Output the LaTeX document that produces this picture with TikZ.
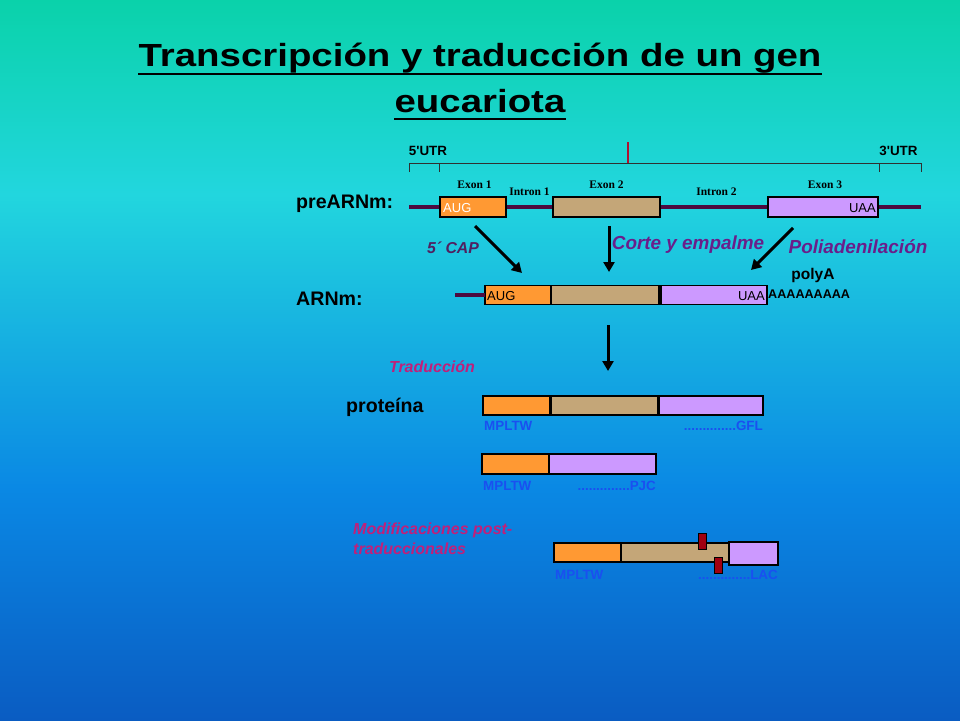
\documentclass[tikz,border=0pt]{standalone}
\usepackage{fontspec}
\setmainfont{Liberation Sans}
\newfontfamily\serifb{Liberation Serif}
\newfontfamily\titlefont[FakeStretch=1.2]{Liberation Sans}
\usetikzlibrary{arrows.meta,calc}
\definecolor{bgtop}{HTML}{0AD2AA}
\definecolor{bgcyan}{HTML}{22D6DE}
\definecolor{bgmid}{HTML}{0A88E4}
\definecolor{bgbot}{HTML}{0A5CC2}
\definecolor{rnaline}{HTML}{4C0A40}
\definecolor{exorange}{HTML}{FF9933}
\definecolor{extan}{HTML}{C4A678}
\definecolor{exlilac}{HTML}{CC99FF}
\definecolor{capcol}{HTML}{502060}
\definecolor{purp}{HTML}{6A1E8A}
\definecolor{magen}{HTML}{C0207A}
\definecolor{aablue}{HTML}{1A50F0}
\definecolor{marker}{HTML}{A00010}
\definecolor{redtick}{HTML}{B01030}
\definecolor{rulercol}{HTML}{303030}
\pgfdeclareverticalshading{bgshade}{100bp}{color(0bp)=(bgbot); color(25bp)=(bgbot); color(41bp)=(bgmid); color(61.5bp)=(bgcyan); color(75bp)=(bgtop); color(100bp)=(bgtop)}
\tikzset{
  exbox/.style={draw=black, line width=1.1pt, inner sep=0pt, outer sep=0pt, minimum height=#1},
  exbox/.default=20pt,
  rna/.style={draw=rnaline, line width=4pt},
  bigarrow/.style={draw=black, line width=3pt, -{Triangle[length=10pt,width=11pt]}},
  lbl/.style={font=\bfseries\fontsize{19.6}{19.6}\selectfont, inner sep=0pt, anchor=west},
  utr/.style={font=\bfseries\fontsize{13.4}{13.4}\selectfont, inner sep=0pt},
  exlbl/.style={font=\serifb\bfseries\fontsize{11.5}{11.5}\selectfont, inner sep=0pt},
  codon/.style={font=\fontsize{13}{13}\selectfont, inner sep=0pt},
  aa/.style={font=\bfseries\fontsize{13.4}{13.4}\selectfont, text=aablue, inner sep=0pt},
  ital/.style={font=\bfseries\itshape\fontsize{#1}{#1}\selectfont, inner sep=0pt},
  ttl/.style={font=\titlefont\bfseries\fontsize{32}{32}\selectfont, inner sep=0pt, anchor=base},
  mk/.style={fill=marker, draw=black, line width=0.4pt, inner sep=0pt, minimum width=8pt, minimum height=16pt}
}
\begin{document}
\begin{tikzpicture}[x=1pt,y=-1pt]
\useasboundingbox (0,0) rectangle (960,720);
\shade[shading=bgshade] (0,0) rectangle (960,720);

% title
\node[ttl] (t1) at (480,66.7) {Transcripción y traducción de un gen};
\node[ttl] (t2) at (480,112.7) {eucariota};
\draw[line width=2.2pt] ($(t1.base west)+(0,7)$) -- ($(t1.base east)+(0,7)$);
\draw[line width=2.2pt] ($(t2.base west)+(0,6)$) -- ($(t2.base east)+(0,6)$);

% ruler
\coordinate (r0) at (409,163);
\coordinate (r1) at (439,163);
\coordinate (r2) at (879,163);
\coordinate (r3) at (921,163);
\draw[rulercol, line width=0.9pt] ($(r0)+(0,9)$) -- (r0) -- (r3) -- ($(r3)+(0,9)$);
\draw[rulercol, line width=0.9pt] (r1) -- ($(r1)+(0,9)$);
\draw[rulercol, line width=0.9pt] (r2) -- ($(r2)+(0,9)$);
\coordinate (rt) at (628,142);
\draw[redtick, line width=1.6pt] (rt) -- (628,163);
\node[utr] (u5) at (428,151) {5\textquotesingle UTR};
\node[utr] (u3) at (898.5,151) {3\textquotesingle UTR};

% preARNm
\node[lbl] (pre) at (296,204) {preARNm:};
\coordinate (p0) at (409,207);
\coordinate (p1) at (921,207);
\draw[rna] (p0) -- (p1);
\node[exbox, fill=exorange, minimum width=66pt, anchor=west] (e1) at (440,207) {};
\node[exbox, fill=extan, minimum width=107pt, anchor=west] (e2) at (553,207) {};
\node[exbox, fill=exlilac, minimum width=110pt, anchor=west] (e3) at (768,207) {};
\draw[line width=2.6pt] (e3.north east) -- (e3.south east);
\node[codon, text=white, anchor=west] (aug1) at (443,208) {AUG};
\node[codon, anchor=east] (uaa1) at (876,208) {UAA};
\node[exlbl] (x1) at (474.5,185) {Exon 1};
\node[exlbl] (i1) at (529.5,192) {Intron 1};
\node[exlbl] (x2) at (606.5,185) {Exon 2};
\node[exlbl] (i2) at (716.5,192) {Intron 2};
\node[exlbl] (x3) at (825,185) {Exon 3};

% processing arrows
\coordinate (a1s) at (475,226); \coordinate (a1e) at (522,273);
\coordinate (a2s) at (609,226); \coordinate (a2e) at (609,272);
\coordinate (a3s) at (793,228); \coordinate (a3e) at (751,270);
\draw[bigarrow] (a1s) -- (a1e);
\draw[bigarrow] (a2s) -- (a2e);
\draw[bigarrow] (a3s) -- (a3e);
\node[ital=15.8, text=capcol] (cap) at (453,248) {5´ CAP};
\node[ital=18.9, text=purp] (corte) at (688,245) {Corte y empalme};
\node[ital=18.9, text=purp] (poli) at (858,247) {Poliadenilación};
\node[font=\bfseries\fontsize{15.5}{15.5}\selectfont, inner sep=0pt] (polya) at (813,275) {polyA};

% ARNm
\node[lbl] (arnm) at (296,299) {ARNm:};
\coordinate (m0) at (455,295);
\node[exbox=19pt, fill=exorange, minimum width=66pt, anchor=west] (m1) at (485,295) {};
\node[exbox=19pt, fill=extan, minimum width=108pt, anchor=west] (m2) at (551,295) {};
\node[exbox=19pt, fill=exlilac, minimum width=106pt, anchor=west] (m3) at (661,295) {};
\draw[rna] (m0) -- (m1.west);
\node[codon, anchor=west] (aug2) at (487,296) {AUG};
\node[codon, anchor=east] (uaa2) at (765,296) {UAA};
\node[font=\bfseries\fontsize{12.6}{12.6}\selectfont, inner sep=0pt, anchor=west] (polyaa) at (768,294) {AAAAAAAAA};

\coordinate (b1s) at (608,325); \coordinate (b1e) at (608,371);
\draw[bigarrow] (b1s) -- (b1e);
\node[ital=16, text=magen] (trad) at (432,367) {Traducción};

% proteins
\node[lbl] (prot) at (346,407) {proteína};
\node[exbox=19pt, fill=exorange, minimum width=67pt, anchor=west] (q1) at (483,405.5) {};
\node[exbox=19pt, fill=extan, minimum width=107pt, anchor=west] (q2) at (551,405.5) {};
\node[exbox=19pt, fill=exlilac, minimum width=104pt, anchor=west] (q3) at (659,405.5) {};
\node[aa, anchor=west] (q1a) at (484,426) {MPLTW};
\node[aa, anchor=east] (q1b) at (763,426) {..............GFL};

\node[exbox=20pt, fill=exorange, minimum width=67pt, anchor=west] (s1) at (482,464) {};
\node[exbox=20pt, fill=exlilac, minimum width=107pt, anchor=west] (s2) at (549,464) {};
\node[aa, anchor=west] (s1a) at (483,486) {MPLTW};
\node[aa, anchor=east] (s1b) at (656,486) {..............PJC};

\node[ital=16, text=magen, anchor=west] (mod1) at (353,530) {Modificaciones post-};
\node[ital=16, text=magen, anchor=west] (mod2) at (353,549) {traduccionales};
\node[exbox=19pt, fill=exorange, minimum width=67pt, anchor=west] (w1) at (554,552.5) {};
\node[exbox=19pt, fill=extan, minimum width=108pt, anchor=west] (w2) at (621,552.5) {};
\node[exbox=23pt, fill=exlilac, minimum width=49pt, anchor=west] (w3) at (729,553.5) {};
\node[mk] (k1) at (702.5,541.5) {};
\node[mk] (k2) at (718,565) {};
\node[aa, anchor=west] (w1a) at (555,575) {MPLTW};
\node[aa, anchor=east] (w1b) at (778,575) {..............LAC};
\end{tikzpicture}
\end{document}
